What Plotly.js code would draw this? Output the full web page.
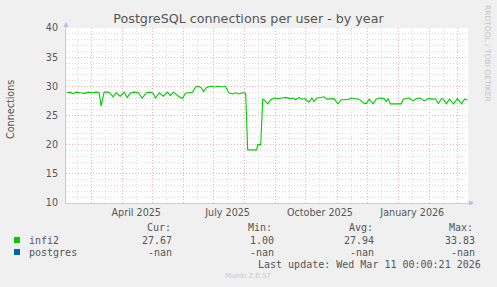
<!DOCTYPE html>
<html>
<head>
<meta charset="utf-8">
<script src="https://cdn.plot.ly/plotly-3.0.1.min.js"></script>
<style>html,body{margin:0;padding:0;background:#F0F0F0;}#chart{width:497px;height:287px;}</style>
</head>
<body>
<div id="chart"></div>
<script>
// ---- data ----
const dates = [
 '2025-02-05','2025-02-08','2025-02-11','2025-02-14','2025-02-18','2025-02-23','2025-02-26',
 '2025-03-02','2025-03-06','2025-03-09','2025-03-11','2025-03-14','2025-03-18','2025-03-20',
 '2025-03-23','2025-03-26','2025-03-30','2025-04-03','2025-04-06','2025-04-09','2025-04-13',
 '2025-04-17','2025-04-21','2025-04-25','2025-04-29','2025-05-02','2025-05-04','2025-05-08',
 '2025-05-12','2025-05-16','2025-05-19','2025-05-22','2025-05-27','2025-05-31','2025-06-03',
 '2025-06-08','2025-06-10','2025-06-13','2025-06-16','2025-06-19','2025-06-21','2025-06-24',
 '2025-06-28','2025-07-02','2025-07-06','2025-07-10','2025-07-13','2025-07-16','2025-07-20',
 '2025-07-23','2025-07-26','2025-07-30','2025-08-02','2025-08-04','2025-08-13','2025-08-14',
 '2025-08-17','2025-08-19','2025-08-21','2025-08-24','2025-08-27','2025-08-30','2025-09-03',
 '2025-09-07','2025-09-11','2025-09-15','2025-09-18','2025-09-21','2025-09-24','2025-09-27',
 '2025-09-30','2025-10-04','2025-10-07','2025-10-09','2025-10-12','2025-10-16','2025-10-19',
 '2025-10-22','2025-10-26','2025-10-29','2025-11-02','2025-11-05','2025-11-09','2025-11-13',
 '2025-11-15','2025-11-19','2025-11-23','2025-11-27','2025-11-30','2025-12-03','2025-12-07',
 '2025-12-10','2025-12-13','2025-12-18','2025-12-20','2025-12-22','2025-12-24','2026-01-04',
 '2026-01-06','2026-01-09','2026-01-12','2026-01-16','2026-01-19','2026-01-23','2026-01-27',
 '2026-01-31','2026-02-05','2026-02-07','2026-02-10','2026-02-13','2026-02-15','2026-02-18',
 '2026-02-21','2026-02-25','2026-03-01','2026-03-05','2026-03-08','2026-03-11'
];
const infi2 = [
 28.9,29.0,28.7,29.0,28.9,28.8,29.0,
 28.9,29.0,28.9,26.6,29.0,29.0,28.8,
 28.2,28.9,28.3,29.0,28.1,28.8,29.0,
 28.9,28.0,28.9,29.0,28.8,28.0,28.9,
 28.3,29.0,28.4,29.0,28.3,27.9,28.8,
 28.9,29.0,29.9,30.0,29.7,29.1,29.8,
 30.0,29.9,30.0,29.9,30.0,28.9,28.7,
 28.9,28.7,28.9,28.8,19.1,19.1,20.0,
 20.0,27.8,27.6,27.0,27.7,28.0,27.9,
 28.0,28.1,27.9,28.0,27.7,28.1,27.8,
 27.9,27.3,28.0,27.4,28.0,28.1,28.2,
 27.8,27.9,27.9,27.0,27.7,27.7,27.8,
 28.0,27.9,27.8,27.2,27.0,27.8,27.0,
 27.8,28.0,27.9,27.4,27.9,27.0,27.0,
 27.8,27.9,28.0,27.5,27.9,28.0,27.5,
 27.9,27.8,27.9,27.0,27.9,27.8,27.0,
 27.8,27.0,27.9,27.0,27.8,27.67
];
const postgres = [];   // no data (nan)

const seriesNames = ['infi2','postgres'];
const seriesColors = ['#00CC00','#0066B3'];
const statHeaders = ['Cur:','Min:','Avg:','Max:'];
const statCur = ['27.67','-nan'];
const statMin = ['1.00','-nan'];
const statAvg = ['27.94','-nan'];
const statMax = ['33.83','-nan'];

const monthStarts = ['2025-03-01','2025-04-01','2025-05-01','2025-06-01','2025-07-01','2025-08-01',
 '2025-09-01','2025-10-01','2025-11-01','2025-12-01','2026-01-01','2026-02-01','2026-03-01'];
const midMonths = ['2025-02-15','2025-03-15','2025-04-15','2025-05-15','2025-06-15','2025-07-15',
 '2025-08-15','2025-09-15','2025-10-15','2025-11-15','2025-12-15','2026-01-15','2026-02-15'];
const midLabels = ['','','April 2025','','','July 2025','','','October 2025','','','January 2026',''];
const yTicks = [10,15,20,25,30,35,40];

const titleText = 'PostgreSQL connections per user - by year';
const yTitle = 'Connections';
const lastUpdate = 'Last update: Wed Mar 11 00:00:21 2026';
const muninVer = 'Munin 2.0.57';
const rrdText = 'RRDTOOL / TOBI OETIKER';

// ---- layout helpers (pixel -> paper) ----
const L = 66, R = 468, T = 28, B = 203;
const px = x => (x - L) / (R - L);
const py = y => (B - y) / (B - T);
const mono = {family: 'DejaVu Sans Mono', size: 10, color: '#555'};

const ann = [];
const shapes = [];
function txt(x, y, text, xanchor, font, extra) {
  ann.push(Object.assign({xref:'paper', yref:'paper', x: px(x), y: py(y), text: text,
    showarrow:false, xanchor: xanchor, yanchor:'middle', font: font}, extra || {}));
}
// y title
txt(11, 110, yTitle, 'center', {family:'DejaVu Sans', size:9.6, color:'#555'}, {textangle:-90});
// rrdtool watermark
txt(488, 53, rrdText, 'center', {family:'DejaVu Sans', size:7.5, color:'#c4c4c4'}, {textangle:90});
// legend header
const headX = [145, 246, 347, 447];
statHeaders.forEach((h,i) => txt(headX[i], 227, h, 'left', mono));
const valX = [174, 276, 376, 477];
const rowY = [240, 252];
seriesNames.forEach((n, r) => {
  shapes.push({type:'rect', xref:'paper', yref:'paper', x0: px(14), x1: px(20), y0: py(rowY[r]+3), y1: py(rowY[r]-3),
    fillcolor: seriesColors[r], line:{width:0}});
  txt(27, rowY[r], n, 'left', mono);
  [statCur, statMin, statAvg, statMax].forEach((arr, i) => txt(valX[i], rowY[r], arr[r], 'right', mono));
});
txt(483, 264, lastUpdate, 'right', mono);
txt(248, 276, muninVer, 'center', {family:'DejaVu Sans', size:7, color:'#c8c8c8'});
// axis arrows
ann.push({xref:'paper', yref:'paper', x: px(474), y: 0, ax: -7, ay: 0, text:'', showarrow:true,
  arrowhead:2, arrowsize:1, arrowwidth:1, arrowcolor:'#b8b8f0'});
ann.push({xref:'paper', yref:'paper', x: 0, y: py(22), ax: 0, ay: 7, text:'', showarrow:true,
  arrowhead:2, arrowsize:1, arrowwidth:1, arrowcolor:'#b8b8f0'});

const traces = [
  {x: dates, y: infi2, type:'scatter', mode:'lines', name: seriesNames[0],
   line:{color: seriesColors[0], width:1.1}, hoverinfo:'skip'},
  {x: postgres.map((_, i) => dates[i]), y: postgres, type:'scatter', mode:'lines', name: seriesNames[1],
   line:{color: seriesColors[1], width:1}, hoverinfo:'skip'}
];

const layout = {
  width: 497, height: 287,
  margin: {l: L, r: 497 - R, t: T, b: 287 - B, pad: 0},
  paper_bgcolor: '#F0F0F0', plot_bgcolor: '#FFFFFF',
  showlegend: false,
  title: {text: titleText, xref:'container', yref:'container', x:0.5, y: 1 - 19/287,
    xanchor:'center', yanchor:'middle', font:{family:'DejaVu Sans', size:12.7, color:'#555'}},
  xaxis: {
    type:'date', range:['2025-02-04','2026-03-11T12:00'], fixedrange:true,
    tickmode:'array', tickvals: midMonths, ticktext: midLabels, ticks:'',
    tickfont:{family:'DejaVu Sans', size:9.6, color:'#555'},
    showgrid:true, gridcolor:'#dcdcdc', griddash:'1px,2px', gridwidth:1,
    minor:{tickmode:'array', tickvals: monthStarts, showgrid:true, gridcolor:'#f2b0b0', griddash:'1px,2px', gridwidth:1, ticks:''},
    showline:true, linecolor:'#c8c8f4', linewidth:1, zeroline:false, mirror:false
  },
  yaxis: {
    range:[10,40], fixedrange:true, tickmode:'array', tickvals: yTicks, ticks:'',
    tickfont:{family:'DejaVu Sans', size:9.6, color:'#555'}, ticklabelstandoff: 5,
    showgrid:true, gridcolor:'#f2b0b0', griddash:'1px,2px', gridwidth:1,
    minor:{dtick:1, showgrid:true, gridcolor:'#dcdcdc', griddash:'1px,2px', gridwidth:1, ticks:''},
    showline:true, linecolor:'#c8c8f4', linewidth:1, zeroline:false
  },
  annotations: ann,
  shapes: shapes
};

Plotly.newPlot('chart', traces, layout, {staticPlot:true, displayModeBar:false});
</script>
</body>
</html>
